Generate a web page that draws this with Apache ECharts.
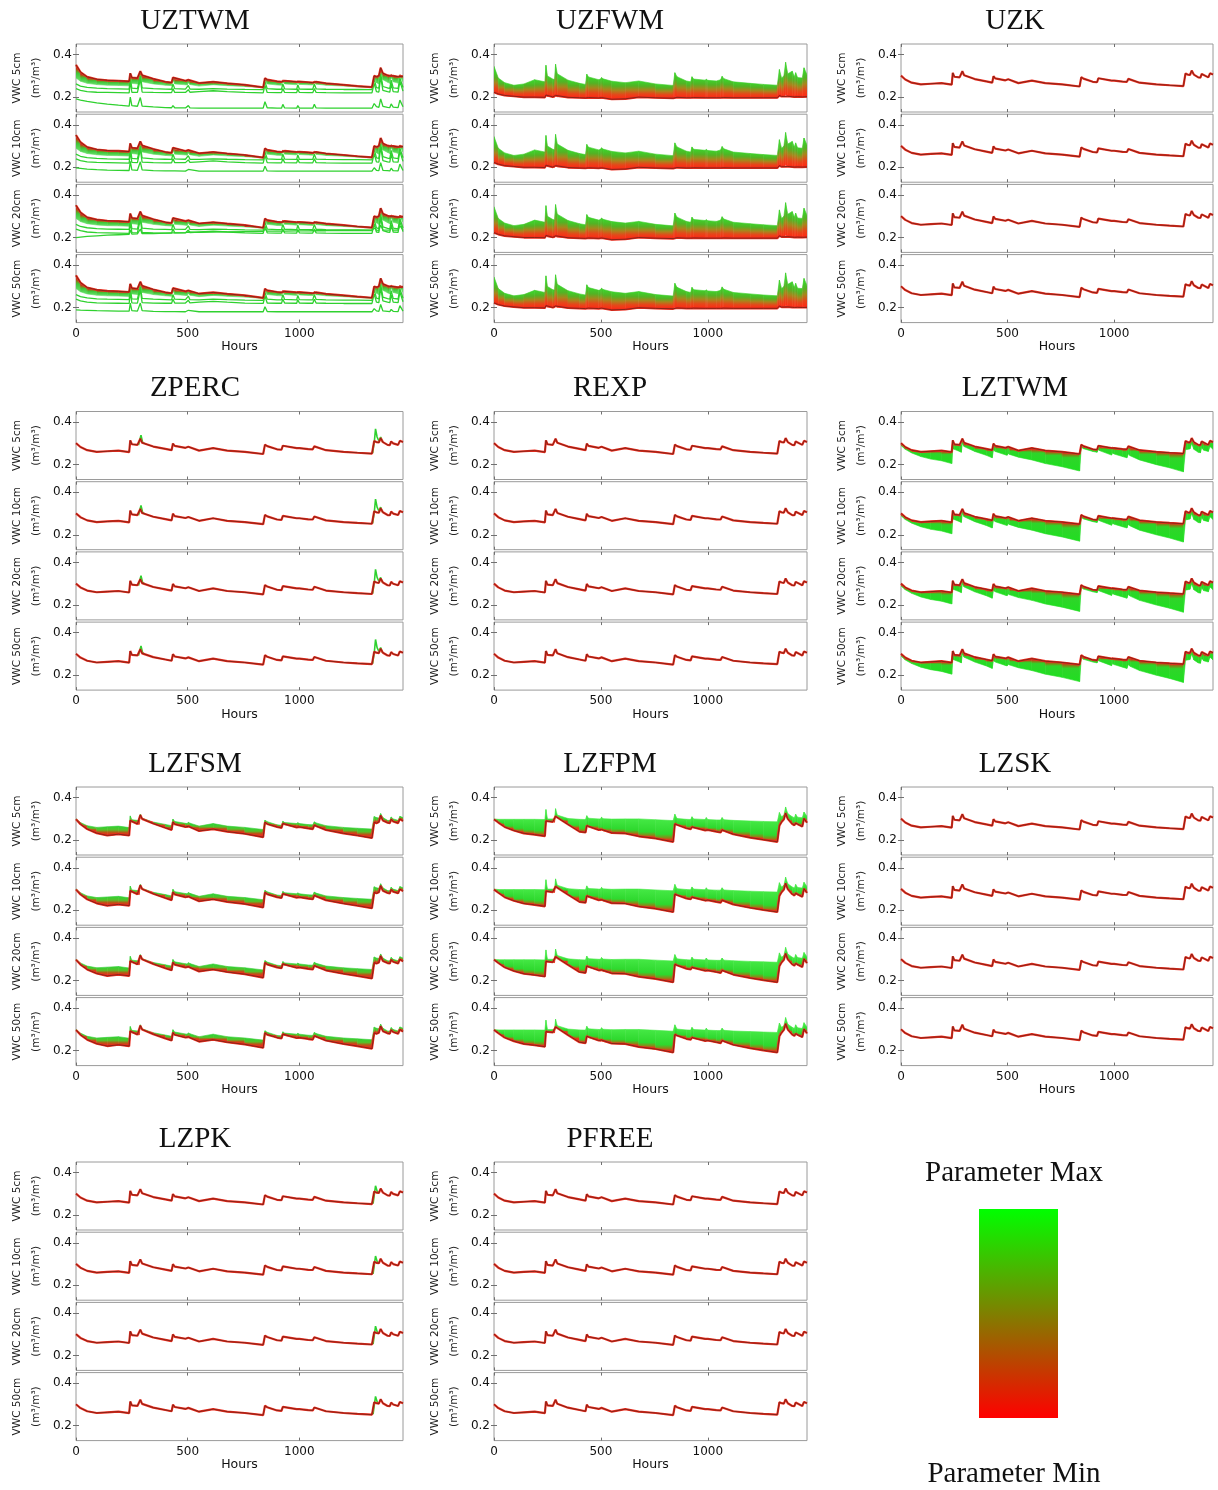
<!DOCTYPE html>
<html>
<head>
<meta charset="utf-8">
<script src="https://cdn.jsdelivr.net/npm/echarts@6/dist/echarts.min.js"></script>
<style>
  html, body { margin: 0; padding: 0; background: #fff; }
  #chart { width: 1218px; height: 1490px; }
</style>
</head>
<body>
<div id="chart"></div>
<script>
// ---- time axis (hours) shared by every simulated curve ----
const HOURS = [0,20,50,93,140,190,238,243,250,275,
  283,288,296,346,400,428,434,442,490,498,
  503,510,551,614,677,756,838,846,856,900,
  920,926,934,988,993,1000,1040,1060,1067,1075,
  1119,1198,1260,1325,1335,1345,1356,1364,1374,1395,
  1405,1411,1420,1442,1450,1464];

const DEPTHS = ['VWC 5cm', 'VWC 10cm', 'VWC 20cm', 'VWC 50cm'];
const X_TICKS = [0, 500, 1000];
const Y_TICKS = [0.2, 0.4];

// nominal soil moisture run (insensitive parameters collapse onto it)
const BASE = [0.301,0.283,0.268,0.260,0.263,0.266,0.259,0.314,0.296,0.293,
  0.291,0.322,0.303,0.285,0.274,0.268,0.299,0.288,0.279,0.278,
  0.284,0.280,0.266,0.278,0.266,0.260,0.250,0.294,0.287,0.272,
  0.270,0.289,0.283,0.278,0.282,0.278,0.273,0.272,0.286,0.281,
  0.268,0.260,0.256,0.252,0.311,0.306,0.304,0.325,0.306,0.293,
  0.292,0.309,0.300,0.293,0.312,0.306];

// UZTWM ensemble
const UZTWM_MIN = [0.352,0.318,0.295,0.284,0.279,0.277,0.274,0.312,0.292,0.289,
  0.288,0.322,0.303,0.286,0.272,0.268,0.292,0.284,0.277,0.276,
  0.281,0.278,0.266,0.272,0.265,0.258,0.246,0.289,0.282,0.274,
  0.272,0.281,0.277,0.272,0.276,0.273,0.270,0.268,0.276,0.272,
  0.265,0.258,0.252,0.247,0.300,0.296,0.300,0.338,0.312,0.302,
  0.300,0.306,0.300,0.296,0.305,0.298];
const UZTWM_BAND_LOW = [0.290,0.275,0.265,0.259,0.256,0.255,0.253,0.300,0.265,0.262,
  0.261,0.310,0.272,0.262,0.256,0.254,0.280,0.262,0.258,0.257,
  0.268,0.259,0.252,0.258,0.254,0.250,0.244,0.280,0.262,0.257,
  0.256,0.272,0.262,0.258,0.268,0.260,0.258,0.257,0.270,0.261,
  0.256,0.252,0.248,0.244,0.290,0.268,0.262,0.320,0.282,0.270,
  0.265,0.295,0.272,0.266,0.298,0.272];
const UZTWM_MID1 = [0.262,0.252,0.246,0.242,0.240,0.239,0.238,0.290,0.242,0.240,
  0.240,0.300,0.244,0.240,0.238,0.237,0.262,0.240,0.238,0.238,
  0.255,0.238,0.237,0.240,0.238,0.236,0.235,0.272,0.240,0.237,
  0.237,0.262,0.239,0.237,0.258,0.238,0.237,0.237,0.262,0.239,
  0.237,0.236,0.236,0.235,0.285,0.245,0.242,0.310,0.250,0.243,
  0.241,0.280,0.244,0.241,0.290,0.245];
const UZTWM_MID2 = [0.240,0.232,0.226,0.223,0.222,0.221,0.220,0.275,0.223,0.222,
  0.222,0.285,0.224,0.222,0.221,0.221,0.240,0.222,0.222,0.222,
  0.235,0.223,0.226,0.230,0.226,0.222,0.220,0.255,0.222,0.221,
  0.221,0.240,0.222,0.221,0.238,0.222,0.221,0.221,0.240,0.222,
  0.221,0.220,0.220,0.220,0.265,0.226,0.224,0.295,0.232,0.226,
  0.224,0.262,0.226,0.224,0.275,0.228];
const UZTWM_LOW_5 = [0.192,0.186,0.180,0.173,0.167,0.162,0.158,0.200,0.160,0.157,
  0.157,0.198,0.158,0.154,0.151,0.150,0.160,0.150,0.149,0.149,
  0.160,0.149,0.148,0.148,0.148,0.148,0.148,0.178,0.150,0.148,
  0.148,0.166,0.149,0.148,0.160,0.148,0.148,0.148,0.166,0.149,
  0.148,0.148,0.148,0.148,0.170,0.155,0.152,0.192,0.157,0.152,
  0.151,0.168,0.153,0.151,0.186,0.155];
const UZTWM_LOW_10 = [0.197,0.195,0.192,0.189,0.187,0.186,0.185,0.228,0.188,0.186,
  0.186,0.226,0.188,0.184,0.183,0.183,0.190,0.183,0.182,0.182,
  0.190,0.182,0.182,0.182,0.182,0.182,0.182,0.205,0.183,0.182,
  0.182,0.190,0.182,0.182,0.188,0.182,0.182,0.182,0.190,0.182,
  0.182,0.182,0.182,0.182,0.198,0.186,0.184,0.222,0.186,0.184,
  0.183,0.196,0.184,0.183,0.215,0.185];
const UZTWM_LOW_20 = [0.200,0.202,0.205,0.208,0.211,0.213,0.215,0.235,0.216,0.217,
  0.217,0.240,0.218,0.219,0.221,0.222,0.226,0.222,0.223,0.223,
  0.226,0.223,0.224,0.226,0.227,0.228,0.229,0.240,0.230,0.230,
  0.230,0.236,0.230,0.231,0.235,0.231,0.231,0.232,0.237,0.232,
  0.232,0.233,0.233,0.233,0.245,0.235,0.234,0.258,0.236,0.235,
  0.235,0.246,0.235,0.235,0.255,0.236];
const UZTWM_LOW_50 = [0.190,0.189,0.188,0.186,0.185,0.184,0.184,0.222,0.186,0.184,
  0.184,0.222,0.186,0.183,0.182,0.182,0.188,0.182,0.181,0.181,
  0.188,0.181,0.181,0.181,0.181,0.181,0.181,0.205,0.182,0.181,
  0.181,0.190,0.181,0.181,0.187,0.181,0.181,0.181,0.190,0.181,
  0.181,0.181,0.181,0.181,0.196,0.185,0.183,0.215,0.185,0.183,
  0.182,0.192,0.183,0.182,0.210,0.184];

// UZFWM ensemble envelope
const UZFWM_MIN = [0.223,0.215,0.208,0.204,0.200,0.200,0.199,0.210,0.203,0.201,
  0.200,0.208,0.202,0.199,0.197,0.196,0.200,0.198,0.196,0.196,
  0.198,0.196,0.190,0.192,0.200,0.197,0.195,0.203,0.199,0.197,
  0.197,0.200,0.198,0.197,0.199,0.197,0.197,0.197,0.200,0.198,
  0.197,0.197,0.197,0.197,0.208,0.203,0.203,0.212,0.204,0.202,
  0.201,0.205,0.202,0.201,0.206,0.202];
const UZFWM_MAX = [0.345,0.290,0.268,0.256,0.262,0.282,0.272,0.350,0.300,0.285,
  0.283,0.355,0.310,0.280,0.265,0.260,0.308,0.295,0.282,0.285,
  0.292,0.286,0.275,0.268,0.276,0.262,0.255,0.315,0.296,0.276,
  0.272,0.296,0.285,0.280,0.284,0.279,0.276,0.282,0.298,0.287,
  0.272,0.265,0.260,0.256,0.330,0.290,0.300,0.364,0.310,0.322,
  0.296,0.315,0.292,0.290,0.338,0.305];

// LZTWM: wettest run follows BASE, driest run below it
const LZTWM_MAX = [0.290,0.272,0.255,0.238,0.226,0.218,0.205,0.275,0.272,0.262,
  0.258,0.300,0.285,0.262,0.244,0.232,0.270,0.262,0.246,0.244,
  0.252,0.248,0.235,0.222,0.205,0.190,0.170,0.282,0.275,0.262,
  0.258,0.270,0.265,0.245,0.255,0.250,0.238,0.232,0.250,0.242,
  0.222,0.200,0.185,0.166,0.270,0.272,0.274,0.300,0.272,0.258,
  0.256,0.280,0.268,0.262,0.285,0.272];

// LZFSM: driest run below BASE
const LZFSM_MIN = [0.298,0.275,0.252,0.233,0.222,0.228,0.222,0.292,0.285,0.276,
  0.274,0.318,0.300,0.278,0.258,0.248,0.285,0.275,0.262,0.260,
  0.265,0.262,0.243,0.252,0.240,0.230,0.214,0.284,0.276,0.262,
  0.258,0.278,0.272,0.260,0.266,0.262,0.255,0.252,0.270,0.264,
  0.248,0.232,0.222,0.210,0.284,0.280,0.285,0.316,0.292,0.282,
  0.280,0.298,0.288,0.280,0.300,0.290];

// LZFPM ensemble envelope
const LZFPM_MIN = [0.298,0.283,0.262,0.245,0.232,0.226,0.219,0.290,0.292,0.286,
  0.284,0.312,0.305,0.274,0.240,0.236,0.268,0.262,0.248,0.245,
  0.250,0.244,0.234,0.232,0.218,0.208,0.192,0.276,0.272,0.256,
  0.252,0.262,0.258,0.246,0.252,0.248,0.240,0.236,0.248,0.242,
  0.228,0.212,0.202,0.192,0.268,0.285,0.298,0.327,0.300,0.276,
  0.270,0.280,0.272,0.264,0.302,0.282];
const LZFPM_MAX = [0.300,0.298,0.298,0.298,0.298,0.298,0.297,0.344,0.300,0.300,
  0.300,0.348,0.318,0.302,0.298,0.297,0.315,0.303,0.300,0.300,
  0.308,0.301,0.299,0.300,0.300,0.296,0.292,0.322,0.302,0.298,
  0.297,0.310,0.300,0.297,0.306,0.297,0.295,0.295,0.306,0.296,
  0.293,0.290,0.288,0.286,0.330,0.310,0.318,0.356,0.325,0.310,
  0.305,0.322,0.308,0.305,0.332,0.312];

// short storm responses of the high-parameter runs ([hour, vwc])
const ZPERC_SPIKE_A = [[280,0.292],[286,0.318],[291,0.338],[298,0.306],[306,0.300]];
const ZPERC_SPIKE_B = [[1328,0.254],[1336,0.312],[1341,0.368],[1348,0.330],[1356,0.312],[1364,0.330],[1372,0.306]];
const LZPK_SPIKE = [[1330,0.254],[1336,0.300],[1341,0.338],[1349,0.310],[1358,0.305]];

// ---- layout & style ----
const COLS = [
  { left: 76,  width: 327, cx: 195 },
  { left: 494, width: 313, cx: 610 },
  { left: 901, width: 312, cx: 1015 }
];
const ROWS = [44, 411.5, 787, 1162];
const SUB_H = 68, SUB_STEP = 70.2;
const SANS = 'DejaVu Sans';
const RED = '#ee2c1e', RED_CORE = '#7c2316', GREEN = '#2fd12f';

const STOPS = {
  UZTWM: [[0,'#c0321a'],[0.2,'#8c7a18'],[0.45,'#3fc53a'],[1,'#62dc62']],
  UZFWM: [[0,'#ff2a14'],[0.25,'#e5471a'],[0.5,'#a7861c'],[0.75,'#52b324'],[1,'#3ecf2a']],
  LZTWM: [[0,'#d2321c'],[0.12,'#8a7c14'],[0.3,'#2fd42a'],[1,'#22dd22']],
  LZFSM: [[0,'#e8301c'],[0.3,'#b65a16'],[0.6,'#55c02a'],[1,'#33d033']],
  LZFPM: [[0,'#e8301c'],[0.12,'#8a8a18'],[0.3,'#2ed82e'],[1,'#44e844']]
};
const toStops = s => s.map(([o, c]) => ({ offset: o, color: c }));

const PANELS = [
  { title: 'UZTWM', col: 0, row: 0, red: UZTWM_MIN,
    band: { red: UZTWM_MIN, green: UZTWM_BAND_LOW, stops: STOPS.UZTWM },
    greens: d => [UZTWM_MID1, UZTWM_MID2, [UZTWM_LOW_5, UZTWM_LOW_10, UZTWM_LOW_20, UZTWM_LOW_50][d]] },
  { title: 'UZFWM', col: 1, row: 0, red: UZFWM_MIN,
    band: { red: UZFWM_MIN, green: UZFWM_MAX, stops: STOPS.UZFWM } },
  { title: 'UZK', col: 2, row: 0, red: BASE },
  { title: 'ZPERC', col: 0, row: 1, red: BASE, spikes: [ZPERC_SPIKE_A, ZPERC_SPIKE_B] },
  { title: 'REXP', col: 1, row: 1, red: BASE },
  { title: 'LZTWM', col: 2, row: 1, red: BASE,
    band: { red: BASE, green: LZTWM_MAX, stops: STOPS.LZTWM } },
  { title: 'LZFSM', col: 0, row: 2, red: LZFSM_MIN,
    band: { red: LZFSM_MIN, green: BASE, stops: STOPS.LZFSM } },
  { title: 'LZFPM', col: 1, row: 2, red: LZFPM_MIN,
    band: { red: LZFPM_MIN, green: LZFPM_MAX, stops: STOPS.LZFPM } },
  { title: 'LZSK', col: 2, row: 2, red: BASE },
  { title: 'LZPK', col: 0, row: 3, red: BASE, spikes: [LZPK_SPIKE] },
  { title: 'PFREE', col: 1, row: 3, red: BASE }
];

const pairs = vals => HOURS.map((h, i) => [h, vals[i]]);

function bandSeries(ax, band) {
  const stops = toStops(band.stops);
  return {
    type: 'custom', coordinateSystem: 'cartesian2d',
    xAxisIndex: ax, yAxisIndex: ax, silent: true, clip: true,
    data: HOURS.slice(0, -1).map((h, i) => [h, band.red[i], i]),
    encode: { x: 0, y: 1 },
    renderItem(params, api) {
      const i = api.value(2);
      const r0 = api.coord([HOURS[i], band.red[i]]);
      const r1 = api.coord([HOURS[i + 1], band.red[i + 1]]);
      const g0 = api.coord([HOURS[i], band.green[i]]);
      const g1 = api.coord([HOURS[i + 1], band.green[i + 1]]);
      const yr = (r0[1] + r1[1]) / 2;
      let yg = (g0[1] + g1[1]) / 2;
      if (Math.abs(yg - yr) < 0.5) yg = yr + 0.5;
      const xm = (r0[0] + r1[0]) / 2;
      const fill = new echarts.graphic.LinearGradient(xm, yr, xm, yg, stops, true);
      return {
        type: 'polygon',
        shape: { points: [r0, r1, g1, g0] },
        style: { fill: fill, stroke: fill, lineWidth: 0.6 }
      };
    }
  };
}

function lineSeries(ax, data, color, width, z) {
  return {
    type: 'line', xAxisIndex: ax, yAxisIndex: ax, data: data,
    showSymbol: false, symbol: 'none', silent: true, z: z || 2,
    lineStyle: { color: color, width: width }
  };
}

const grids = [], xAxes = [], yAxes = [], series = [], graphics = [];

PANELS.forEach(p => {
  const c = COLS[p.col], top0 = ROWS[p.row];
  graphics.push({
    type: 'text', x: c.cx, y: top0 - 23,
    style: { text: p.title, font: '29px "Liberation Serif"', fill: '#111',
             align: 'center', verticalAlign: 'middle' }
  });
  DEPTHS.forEach((dname, d) => {
    const g = grids.length;
    const last = d === 3;
    grids.push({ left: c.left, top: top0 + d * SUB_STEP, width: c.width, height: SUB_H,
                 show: true, borderColor: '#9a9a9a', borderWidth: 1, backgroundColor: 'transparent' });
    const xi = xAxes.length;
    xAxes.push({
      gridIndex: g, type: 'value', min: 0, max: 1464, position: 'bottom',
      axisLine: { show: false }, splitLine: { show: false },
      axisTick: { show: true, inside: true, length: 3, customValues: X_TICKS, lineStyle: { color: '#707070' } },
      axisLabel: { show: last, customValues: X_TICKS, margin: 5, fontFamily: SANS, fontSize: 12, color: '#111',
                   formatter: v => String(Math.round(v)) },
      name: last ? 'Hours' : '', nameLocation: 'middle', nameGap: 15,
      nameTextStyle: { fontFamily: SANS, fontSize: 12.5, color: '#111' }
    });
    xAxes.push({
      gridIndex: g, type: 'value', min: 0, max: 1464, position: 'top',
      axisLine: { show: false }, splitLine: { show: false },
      axisTick: { show: true, inside: true, length: 3, customValues: X_TICKS, lineStyle: { color: '#707070' } },
      axisLabel: { show: false }
    });
    yAxes.push({
      gridIndex: g, type: 'value', min: 0.13, max: 0.45, position: 'left',
      axisLine: { show: false }, splitLine: { show: false },
      axisTick: { show: true, inside: true, length: 3, customValues: Y_TICKS, lineStyle: { color: '#707070' } },
      axisLabel: { show: true, customValues: Y_TICKS, margin: 4, fontFamily: SANS, fontSize: 12, color: '#111',
                   formatter: v => v.toFixed(1) },
      name: dname + '\n(m³/m³)', nameLocation: 'middle', nameRotate: 90, nameGap: 30,
      nameTextStyle: { fontFamily: SANS, fontSize: 10.5, lineHeight: 19, color: '#222' }
    });
    yAxes.push({
      gridIndex: g, type: 'value', min: 0.13, max: 0.45, position: 'right',
      axisLine: { show: false }, splitLine: { show: false },
      axisTick: { show: true, inside: true, length: 3, customValues: Y_TICKS, lineStyle: { color: '#707070' } },
      axisLabel: { show: false }
    });

    if (p.band) series.push(bandSeries(xi, p.band));
    if (p.greens) p.greens(d).forEach(arr => series.push(lineSeries(xi, pairs(arr), GREEN, 1.3, 3)));
    if (p.spikes) p.spikes.forEach(sp => series.push(lineSeries(xi, sp, GREEN, 1.6, 3)));
    series.push(lineSeries(xi, pairs(p.red), RED, 2.2, 4));
    series.push(lineSeries(xi, pairs(p.red), RED_CORE, 0.9, 5));
  });
});

// colour key for the parameter range
graphics.push({
  type: 'text', x: 1014, y: 1173,
  style: { text: 'Parameter Max', font: '29px "Liberation Serif"', fill: '#111', align: 'center', verticalAlign: 'middle' }
});
graphics.push({
  type: 'rect', shape: { x: 979, y: 1209, width: 79, height: 209 },
  style: { fill: new echarts.graphic.LinearGradient(0, 0, 0, 1, [
    { offset: 0, color: '#00ff00' }, { offset: 1, color: '#ff0000' }]) }
});
graphics.push({
  type: 'text', x: 1014, y: 1474,
  style: { text: 'Parameter Min', font: '29px "Liberation Serif"', fill: '#111', align: 'center', verticalAlign: 'middle' }
});

const chart = echarts.init(document.getElementById('chart'));
chart.setOption({
  backgroundColor: '#fff',
  animation: false,
  grid: grids,
  xAxis: xAxes,
  yAxis: yAxes,
  series: series,
  graphic: { elements: graphics }
});
</script>
</body>
</html>
